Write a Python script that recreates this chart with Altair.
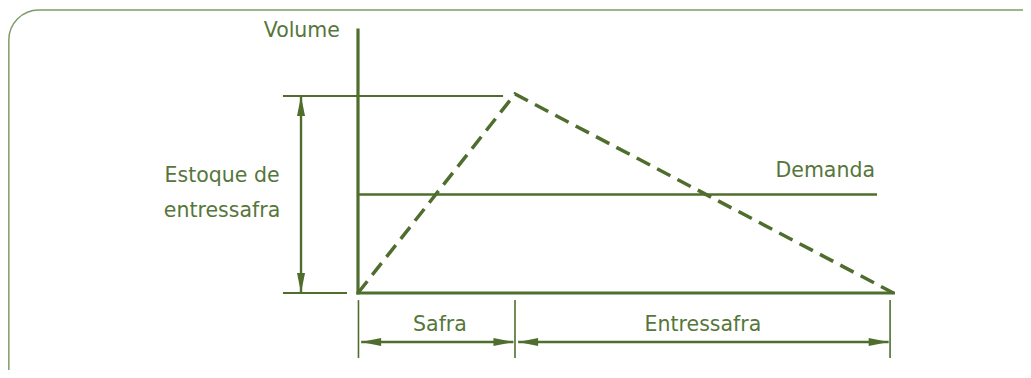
import altair as alt
import pandas as pd

# ---- diagram units: t = time (Safra = 0..1), v = volume (peak stock = 1) ----
X_DOMAIN = [-350 / 157, 665 / 157]
Y_DOMAIN = [-77 / 197, 285 / 197]

# stock curve (dashed triangle)
stock_t = [0.0, 1.0, 3.41]
stock_v = [0.0, 1.01, 0.0]

# axes
axis_x1 = [0.0, 0.0]
axis_x2 = [3.41, 0.0]
axis_y1 = [0.0, 0.0]
axis_y2 = [0.0, 1.335]

# demand level
demand_t = [0.0, 3.306]
demand_v = 0.5

# thin guide lines (peak level and zero level, at left)
guide_t1 = [-0.478, -0.478]
guide_t2 = [0.924, -0.07]
guide_v = [1.0, 0.0]

# stock double arrow
stock_arrow_t = -0.363
stock_arrow_v = [0.0, 1.0]

# period boundaries below the time axis
period_t = [0.003, 1.0, 3.389]
period_v = [-0.036, -0.33]
period_arrow_v = -0.249
period_names = ["Safra", "Entressafra"]
period_start = [0.02, 1.02]
period_end = [0.99, 3.38]

# labels
label_text = ["Volume", "Demanda", "Estoque de", "entressafra", "Safra", "Entressafra"]
label_t = [-0.115, 3.293, -0.866, -0.866, 0.522, 2.197]
label_v = [1.33, 0.619, 0.594, 0.416, -0.162, -0.162]
label_align = ["right", "right", "center", "center", "center", "center"]

# frame
frame_t = [-2.224, 4.5]
frame_v = [1.4365, -0.55]

GREEN = "#4f6e2e"
TEXT_GREEN = "#56763b"
FRAME = "#7f9c66"
FONT = "DejaVu Sans"

xs = alt.Scale(domain=X_DOMAIN, nice=False, zero=False)
ys = alt.Scale(domain=Y_DOMAIN, nice=False, zero=False)


def X(f):
    return alt.X(f, type="quantitative", scale=xs, axis=None)


def Y(f):
    return alt.Y(f, type="quantitative", scale=ys, axis=None)


frame_df = pd.DataFrame({"t": [frame_t[0]], "t2": [frame_t[1]], "v": [frame_v[0]], "v2": [frame_v[1]]})
frame = alt.Chart(frame_df).mark_rect(
    filled=False, stroke=FRAME, strokeWidth=1.5, cornerRadius=30, clip=False
).encode(x=X("t"), x2="t2", y=Y("v"), y2="v2")

stock_df = pd.DataFrame({"t": stock_t, "v": stock_v, "o": range(len(stock_t))})
stock = alt.Chart(stock_df).mark_line(
    color=GREEN, strokeWidth=3.5, strokeDash=[15, 8], strokeCap="butt"
).encode(x=X("t"), y=Y("v"), order="o:Q")

axes_df = pd.DataFrame({
    "t": [axis_x1[0], axis_y1[0]], "t2": [axis_x2[0], axis_y2[0]],
    "v": [axis_x1[1], axis_y1[1]], "v2": [axis_x2[1], axis_y2[1]],
})
axes = alt.Chart(axes_df).mark_rule(color=GREEN, strokeWidth=3.2, strokeCap="square").encode(
    x=X("t"), x2="t2", y=Y("v"), y2="v2"
)

demand_df = pd.DataFrame({"t": [demand_t[0]], "t2": [demand_t[1]], "v": [demand_v], "v2": [demand_v]})
demand = alt.Chart(demand_df).mark_rule(color=GREEN, strokeWidth=2.4).encode(
    x=X("t"), x2="t2", y=Y("v"), y2="v2"
)

guides_df = pd.DataFrame({"t": guide_t1, "t2": guide_t2, "v": guide_v, "v2": guide_v})
guides = alt.Chart(guides_df).mark_rule(color=GREEN, strokeWidth=1.8).encode(
    x=X("t"), x2="t2", y=Y("v"), y2="v2"
)

ticks_df = pd.DataFrame({"t": period_t, "t2": period_t,
                         "v": [period_v[0]] * 3, "v2": [period_v[1]] * 3})
ticks = alt.Chart(ticks_df).mark_rule(color=GREEN, strokeWidth=1.6).encode(
    x=X("t"), x2="t2", y=Y("v"), y2="v2"
)

shafts_df = pd.DataFrame({
    "t": [stock_arrow_t] + period_start,
    "t2": [stock_arrow_t] + period_end,
    "v": [stock_arrow_v[0], period_arrow_v, period_arrow_v],
    "v2": [stock_arrow_v[1], period_arrow_v, period_arrow_v],
})
shafts = alt.Chart(shafts_df).mark_rule(color=GREEN, strokeWidth=2.4).encode(
    x=X("t"), x2="t2", y=Y("v"), y2="v2"
)

heads_df = pd.DataFrame({
    "t": [stock_arrow_t, stock_arrow_t, period_start[0], period_end[0], period_start[1], period_end[1]],
    "v": [stock_arrow_v[1], stock_arrow_v[0]] + [period_arrow_v] * 4,
    "a": [0, 180, 270, 90, 270, 90],
})
heads = alt.Chart(heads_df).mark_point(
    shape="M0,0L-0.4,2L0.4,2Z", filled=True, size=400, color=GREEN, opacity=1, strokeWidth=0
).encode(x=X("t"), y=Y("v"), angle=alt.Angle("a:Q", scale=None))

labels_df = pd.DataFrame({"txt": label_text, "t": label_t, "v": label_v, "al": label_align})
text_layers = []
for al in ["right", "center"]:
    text_layers.append(
        alt.Chart(labels_df[labels_df["al"] == al]).mark_text(
            font=FONT, fontSize=20.5, color=TEXT_GREEN, align=al, baseline="middle"
        ).encode(x=X("t"), y=Y("v"), text="txt:N")
    )

chart = alt.layer(
    frame, guides, demand, stock, axes, ticks, shafts, heads, *text_layers
).properties(
    width=1015, height=362, autosize="none", padding=0
).configure_view(stroke=None)

chart.save("out.html", embed_options={"renderer": "svg", "actions": False})
